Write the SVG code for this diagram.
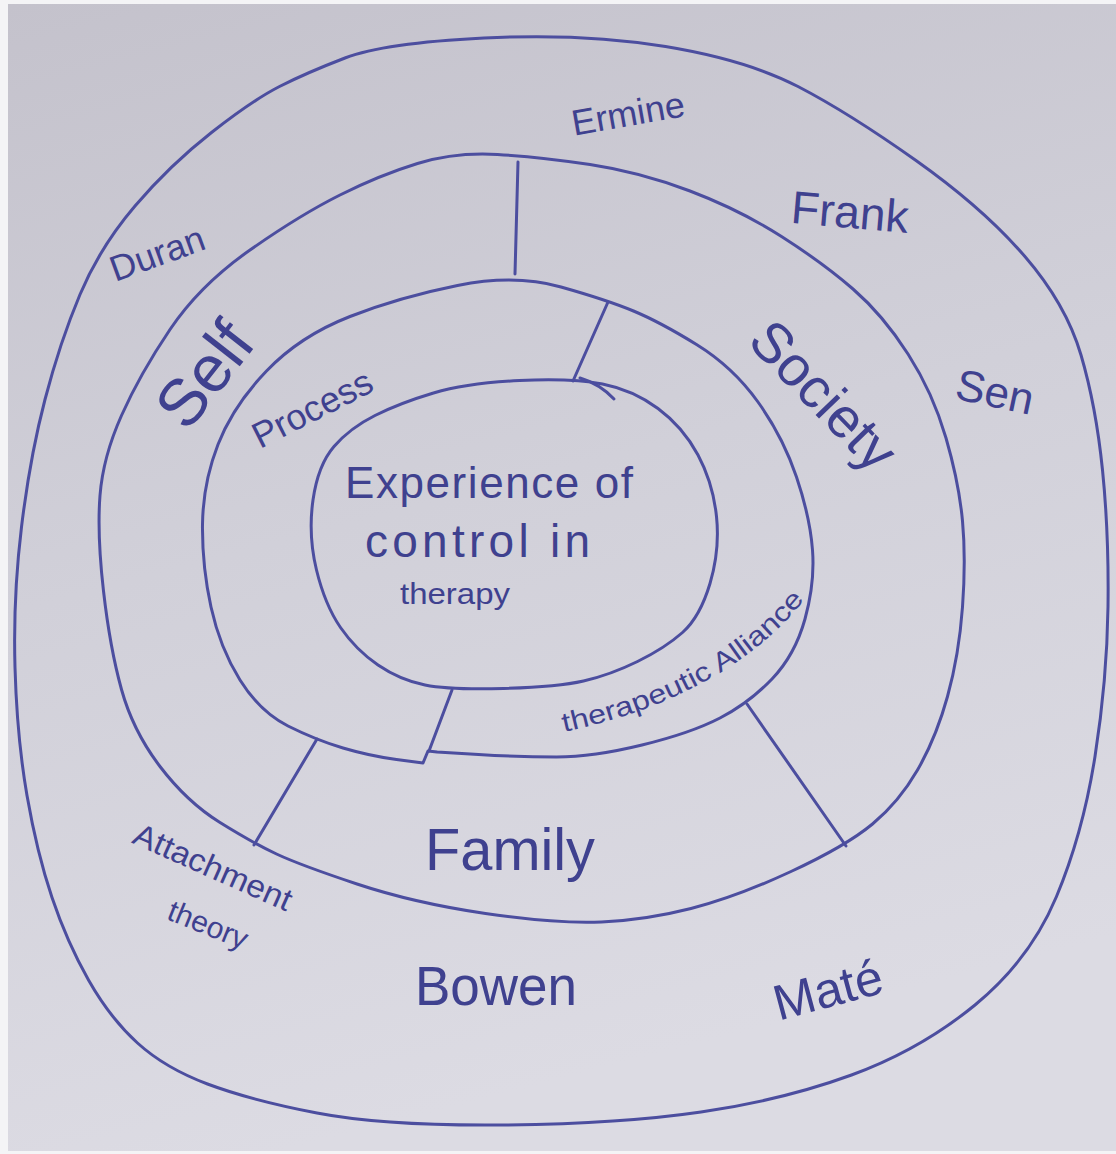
<svg xmlns="http://www.w3.org/2000/svg" width="1116" height="1154" viewBox="0 0 1116 1154">
<defs>
<linearGradient id="paper" x1="0" y1="0" x2="0.25" y2="1">
<stop offset="0" stop-color="#c4c2cc"/>
<stop offset="0.5" stop-color="#d1d0d9"/>
<stop offset="1" stop-color="#dcdbe3"/>
</linearGradient>
<path id="taPath" d="M 564 732 Q 740 694 818 582"/>
</defs>
<style>
.ink{fill:none;stroke:#4c4e9f;stroke-width:3;stroke-linecap:round;stroke-linejoin:round}
.lbl{fill:#3f418f;font-family:"Liberation Sans","DejaVu Sans",sans-serif}
</style>
<rect x="0" y="0" width="1116" height="1154" fill="#f4f4f6"/>
<rect x="8" y="4" width="1108" height="1147" fill="url(#paper)"/>

<g id="outer-ring">
<path class="ink" d="M 211.5 132.5 Q 253 100 279.5 86.5 Q 306 73 345 58 Q 384 43 484 38 Q 584 33 665.5 46.5 Q 747 60 798 86.5 Q 849 113 916 160.5 Q 983 208 1024.5 256 Q 1066 304 1081 355 Q 1096 406 1102.5 470 Q 1109 534 1108 607 Q 1107 680 1095 756.5 Q 1083 833 1056.5 896.5 Q 1030 960 975 1005 Q 920 1050 851.5 1075 Q 783 1100 701 1112 Q 619 1124 501.5 1125 Q 384 1126 317 1113 Q 250 1100 207.5 1084 Q 165 1068 137.5 1043 Q 110 1018 88.5 980 Q 67 942 52 897.5 Q 37 853 27 795.5 Q 17 738 15 667.5 Q 13 597 21.5 527 Q 30 457 45 399.5 Q 60 342 80 294.5 Q 100 247 135 206 Q 170 165 211.5 132.5 Z"/>
</g>

<g id="middle-ring">
<path class="ink" d="M 417.5 163.5 Q 455 152 497.5 154.5 Q 540 157 590 164.5 Q 640 172 690 191 Q 740 210 781.5 236.5 Q 823 263 853 289 Q 883 315 908 354 Q 933 393 946 438 Q 959 483 962.5 521 Q 966 559 962.5 607 Q 959 655 947.5 696.5 Q 936 738 917.5 770 Q 899 802 872.5 824 Q 846 846 791 871.5 Q 736 897 691 908.5 Q 646 920 601.5 922 Q 557 924 485.5 913.5 Q 414 903 357 884 Q 300 865 276.5 854 Q 253 843 220 822.5 Q 187 802 160 766.5 Q 133 731 121.5 689.5 Q 110 648 103.5 591 Q 97 534 100 495.5 Q 103 457 121.5 415.5 Q 140 374 170 329.5 Q 200 285 250 250 Q 300 215 340 195 Q 380 175 417.5 163.5 Z"/>
</g>

<g id="inner-ring">
<path class="ink" d="M 437 752 L 478.5 754.5 Q 520 757 556.5 757 Q 593 757 642 745 Q 691 733 720 718 Q 749 703 772 679 Q 795 655 805 619 Q 815 583 812.5 550 Q 810 517 796.5 477 Q 783 437 758 402 Q 733 367 696.5 344.5 Q 660 322 633.5 311 Q 607 300 561 287 Q 515 274 457.5 285.5 Q 400 297 350 316.5 Q 300 336 266.5 371 Q 233 406 218 444.5 Q 203 483 202.5 524.5 Q 202 566 211 607 Q 220 648 240 680 Q 260 712 288 726 Q 316 740 343 748 Q 370 756 396.5 759.5 L 423 763 L 428 751 L 437 752"/>
</g>

<g id="center">
<path class="ink" d="M 519.5 380.5 Q 572 378 602.5 384 Q 633 390 658 408.5 Q 683 427 698 455 Q 713 483 716.5 516.5 Q 720 550 710 583.5 Q 700 617 682.5 632.5 Q 665 648 637.5 661.5 Q 610 675 583.5 681 Q 557 687 503.5 688.5 Q 450 690 425 685 Q 400 680 378 665 Q 356 650 340.5 627.5 Q 325 605 316.5 570 Q 308 535 313 500 Q 318 465 334 446.5 Q 350 428 375 415.5 Q 400 403 433.5 393 Q 467 383 519.5 380.5 Z"/>
<path class="ink" d="M 580 378 Q 600 384 614 399" stroke-width="2"/>
<text class="lbl" x="345" y="498" font-size="44" textLength="288" lengthAdjust="spacing">Experience of</text>
<text class="lbl" x="365" y="557" font-size="46" textLength="225" lengthAdjust="spacing">control in</text>
<text class="lbl" x="400" y="604" font-size="30" textLength="110" lengthAdjust="spacingAndGlyphs">therapy</text>
</g>

<g id="connectors">
<path class="ink" d="M 518 162 L 515 274"/>
<path class="ink" d="M 608 302 L 573 381"/>
<path class="ink" d="M 452 690 L 429 751"/>
<path class="ink" d="M 317 739 L 254 845"/>
<path class="ink" d="M 747 704 L 846 846"/>
</g>

<g id="self">
<text class="lbl" x="205" y="397" font-size="66" text-anchor="middle" transform="rotate(-52 205 375)">Self</text>
</g>
<g id="process">
<text class="lbl" x="312" y="421" font-size="36" text-anchor="middle" transform="rotate(-27 312 408)">Process</text>
</g>
<g id="society">
<text class="lbl" x="822" y="414" font-size="56" text-anchor="middle" transform="rotate(46 822 397)">Society</text>
</g>
<g id="therapeutic-alliance">
<text class="lbl" font-size="27"><textPath href="#taPath" textLength="280" lengthAdjust="spacingAndGlyphs">therapeutic Alliance</textPath></text>
</g>
<g id="family">
<text class="lbl" x="425" y="870" font-size="60" textLength="170" lengthAdjust="spacingAndGlyphs">Family</text>
</g>

<g id="ermine">
<text class="lbl" x="628" y="126" font-size="36" text-anchor="middle" transform="rotate(-10 628 113)">Ermine</text>
</g>
<g id="frank">
<text class="lbl" x="850" y="228" font-size="46" text-anchor="middle" transform="rotate(5 850 212)">Frank</text>
</g>
<g id="duran">
<text class="lbl" x="157" y="266" font-size="36" text-anchor="middle" transform="rotate(-20 157 253)">Duran</text>
</g>
<g id="sen">
<text class="lbl" x="995" y="407" font-size="44" text-anchor="middle" transform="rotate(12 995 392)">Sen</text>
</g>
<g id="attachment-theory">
<text class="lbl" x="213" y="878" font-size="32" text-anchor="middle" textLength="170" lengthAdjust="spacingAndGlyphs" transform="rotate(24 213 867)">Attachment</text>
<text class="lbl" x="208" y="935" font-size="30" text-anchor="middle" transform="rotate(22 208 925)">theory</text>
</g>
<g id="bowen">
<text class="lbl" x="415" y="1005" font-size="56" textLength="162" lengthAdjust="spacingAndGlyphs">Bowen</text>
</g>
<g id="mate">
<text class="lbl" x="828" y="1007" font-size="50" text-anchor="middle" transform="rotate(-15 828 990)">Maté</text>
</g>
</svg>
